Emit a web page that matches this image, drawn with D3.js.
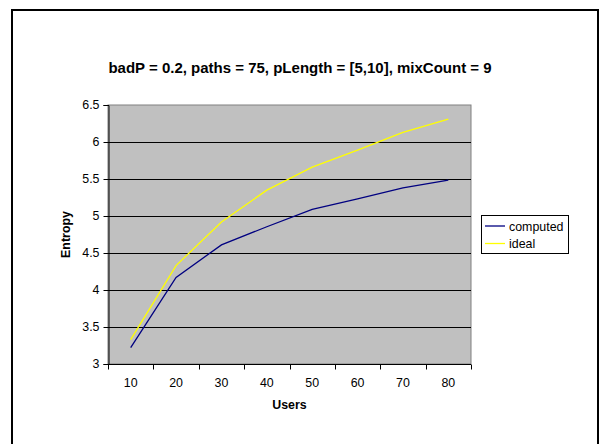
<!DOCTYPE html>
<html>
<head>
<meta charset="utf-8">
<script src="https://cdn.jsdelivr.net/npm/d3@7"></script>
<style>
  html, body { margin: 0; padding: 0; background: #fff; }
  svg { display: block; }
  text { font-family: Arial, "Liberation Sans", sans-serif; fill: #000; }
</style>
</head>
<body>
<svg id="chart" width="600" height="444"></svg>
<script>
// Entropy vs number of users
const users = [10, 20, 30, 40, 50, 60, 70, 80];
const computed = [3.22, 4.17, 4.61, 4.855, 5.09, 5.23, 5.38, 5.485];
const ideal = [3.33, 4.33, 4.92, 5.35, 5.66, 5.89, 6.13, 6.31];
const yTicks = [3, 3.5, 4, 4.5, 5, 5.5, 6, 6.5];
const seriesNames = ["computed", "ideal"];
const seriesColors = ["#000080", "#FFFF00"];
const title = "badP = 0.2, paths = 75, pLength = [5,10], mixCount = 9";

const svg = d3.select("#chart");
const plot = { left: 108, right: 471, top: 105, bottom: 364 };
const fontSize = 12.4;

// outer frame
svg.append("rect")
  .attr("x", 12).attr("y", 10)
  .attr("width", 586).attr("height", 440)
  .attr("fill", "#fff").attr("stroke", "#000").attr("stroke-width", 2);

const x = d3.scaleBand().domain(users).range([plot.left, plot.right]).padding(0);
const y = d3.scaleLinear().domain([3, 6.5]).range([plot.bottom, plot.top]);

// plot area
svg.append("rect")
  .attr("x", plot.left).attr("y", plot.top)
  .attr("width", plot.right - plot.left).attr("height", plot.bottom - plot.top)
  .attr("fill", "#C0C0C0").attr("stroke", "#808080").attr("stroke-width", 1);

// horizontal gridlines
svg.append("g").selectAll("line")
  .data(yTicks.filter(d => d > 3 && d < 6.5))
  .join("line")
  .attr("x1", plot.left).attr("x2", plot.right)
  .attr("y1", d => Math.round(y(d)) + 0.5).attr("y2", d => Math.round(y(d)) + 0.5)
  .attr("stroke", "#000").attr("stroke-width", 1);

// y axis
const yAxis = svg.append("g")
  .attr("transform", `translate(${plot.left + 0.5},0)`)
  .call(d3.axisLeft(y).tickValues(yTicks).tickFormat(d3.format("")).tickSize(5).tickPadding(4));
yAxis.select(".domain").attr("stroke", "#000");
yAxis.selectAll(".tick line").attr("stroke", "#000");
yAxis.selectAll(".tick text").attr("font-size", fontSize).style("font-family", "Arial, 'Liberation Sans', sans-serif");

// x axis with ticks between categories
const xAxis = svg.append("g")
  .attr("transform", `translate(0,${plot.bottom + 0.5})`);
xAxis.append("line")
  .attr("x1", plot.left).attr("x2", plot.right)
  .attr("stroke", "#000");
const boundaries = users.map(u => x(u)).concat([x(users[users.length - 1]) + x.bandwidth()]);
xAxis.selectAll("line.tick")
  .data(boundaries)
  .join("line")
  .attr("class", "tick")
  .attr("x1", d => Math.round(d) + 0.5).attr("x2", d => Math.round(d) + 0.5)
  .attr("y1", 0).attr("y2", 5)
  .attr("stroke", "#000");
xAxis.selectAll("text")
  .data(users)
  .join("text")
  .attr("x", d => x(d) + x.bandwidth() / 2)
  .attr("y", 22)
  .attr("text-anchor", "middle")
  .attr("font-size", fontSize)
  .text(d => d);

// series lines
const line = d3.line()
  .x((d, i) => x(users[i]) + x.bandwidth() / 2)
  .y(d => y(d));
[computed, ideal].forEach((vals, k) => {
  svg.append("path")
    .datum(vals)
    .attr("d", line)
    .attr("fill", "none")
    .attr("stroke", seriesColors[k])
    .attr("stroke-width", 1.3);
});

// titles
svg.append("text")
  .attr("x", 300).attr("y", 73)
  .attr("text-anchor", "middle")
  .attr("font-size", 15).attr("font-weight", "bold")
  .text(title);
svg.append("text")
  .attr("x", (plot.left + plot.right) / 2).attr("y", 409)
  .attr("text-anchor", "middle")
  .attr("font-size", fontSize).attr("font-weight", "bold")
  .text("Users");
svg.append("text")
  .attr("transform", `translate(70,${(plot.top + plot.bottom) / 2}) rotate(-90)`)
  .attr("text-anchor", "middle")
  .attr("font-size", fontSize).attr("font-weight", "bold")
  .text("Entropy");

// legend
const legend = svg.append("g");
legend.append("rect")
  .attr("x", 481.5).attr("y", 215.5)
  .attr("width", 87).attr("height", 38)
  .attr("fill", "#fff").attr("stroke", "#000").attr("stroke-width", 1);
seriesNames.forEach((name, k) => {
  const cy = 226 + k * 17.5;
  legend.append("line")
    .attr("x1", 485).attr("x2", 505)
    .attr("y1", cy).attr("y2", cy)
    .attr("stroke", seriesColors[k]).attr("stroke-width", 1.3);
  legend.append("text")
    .attr("x", 509).attr("y", cy + 4.5)
    .attr("font-size", fontSize)
    .text(name);
});
</script>
</body>
</html>
